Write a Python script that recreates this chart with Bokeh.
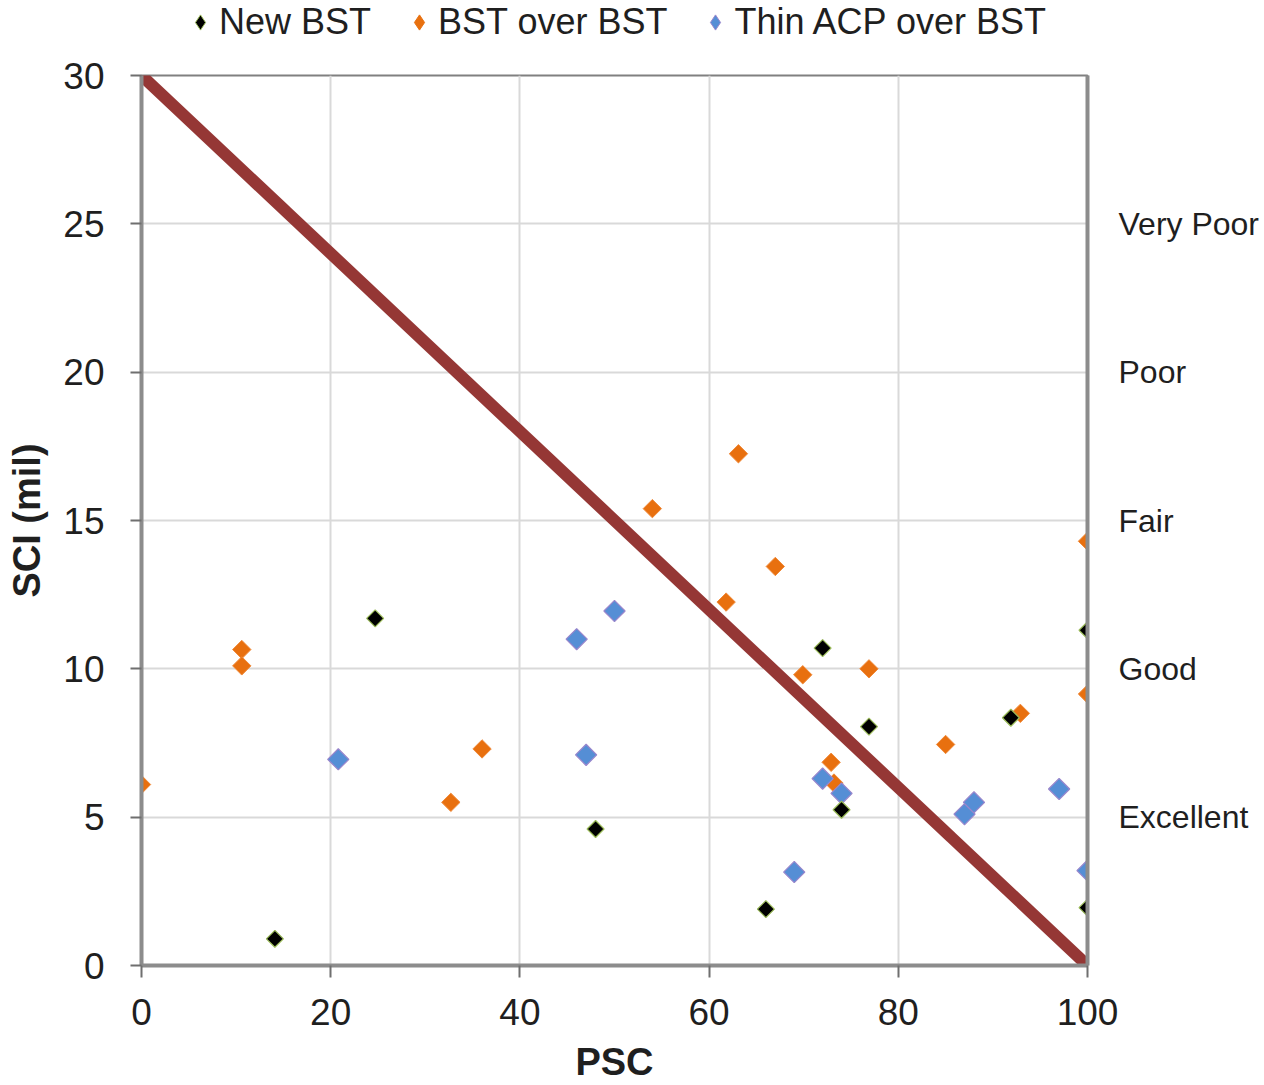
from bokeh.plotting import figure
from bokeh.models import Range1d, LinearAxis, FixedTicker, Legend, LegendItem
from bokeh.layouts import column
from bokeh.embed import file_html
from bokeh.resources import INLINE
import math

# ---------------- data ----------------
new_bst_psc = [14.1, 24.7, 48.0, 66.0, 72.0, 74.0, 76.9, 91.9, 100.0, 100.0]
new_bst_sci = [0.9, 11.7, 4.6, 1.9, 10.7, 5.25, 8.05, 8.35, 11.3, 1.95]

bst_over_psc = [0.0, 10.6, 10.6, 32.7, 36.0, 54.0, 61.8, 63.1, 67.0, 69.9,
                72.9, 73.2, 76.9, 85.0, 92.9, 100.0, 100.0]
bst_over_sci = [6.1, 10.65, 10.1, 5.5, 7.3, 15.4, 12.25, 17.25, 13.45, 9.8,
                6.85, 6.15, 10.0, 7.45, 8.5, 14.3, 9.15]

acp_psc = [20.8, 46.0, 47.0, 50.0, 69.0, 72.0, 74.0, 87.0, 88.0, 97.0, 100.0]
acp_sci = [6.95, 11.0, 7.1, 11.95, 3.15, 6.3, 5.8, 5.1, 5.5, 5.95, 3.2]

threshold_psc = [0, 100]
threshold_sci = [30, 0]

rating_levels = [25, 20, 15, 10, 5]
rating_labels = ["Very Poor", "Poor", "Fair", "Good", "Excellent"]

series_names = ["New BST", "BST over BST", "Thin ACP over BST"]

x_ticks = [0, 20, 40, 60, 80, 100]
y_ticks = [0, 5, 10, 15, 20, 25, 30]

# ---------------- styling ----------------
FONT = "Liberation Sans"
AXIS_GRAY = "#8c8c8c"
TEXT = "#1f1f1f"
C_NEW_FILL, C_NEW_LINE = "#000000", "#9BBB59"
C_BST_FILL, C_BST_LINE = "#E8700F", "#F08A3A"
C_ACP_FILL, C_ACP_LINE = "#558ED5", "#9a86cc"

W = 1264
LEG_H = 44

# ---------------- main figure ----------------
p = figure(width=W, height=1085 - LEG_H, output_backend="svg", toolbar_location=None,
           x_range=Range1d(0, 100), y_range=Range1d(0, 30),
           min_border_left=141, min_border_right=177, min_border_top=75 - LEG_H,
           min_border_bottom=120, background_fill_color="white",
           border_fill_color="white")

p.outline_line_color = "#808080"
p.outline_line_width = 2

p.xgrid.ticker = FixedTicker(ticks=x_ticks)
p.ygrid.ticker = FixedTicker(ticks=y_ticks)
for g in (p.xgrid, p.ygrid):
    g.grid_line_color = "#d9d9d9"
    g.grid_line_width = 2

xa = p.xaxis[0]
xa.ticker = FixedTicker(ticks=x_ticks)
xa.axis_label = "PSC"
ya = p.yaxis[0]
ya.ticker = FixedTicker(ticks=y_ticks)
ya.axis_label = "SCI (mil)"

for ax in (xa, ya):
    ax.axis_line_color = AXIS_GRAY
    ax.axis_line_width = 4
    ax.major_tick_line_color = "#6f6f6f"
    ax.major_tick_line_width = 2
    ax.major_tick_in = 0
    ax.minor_tick_line_color = None
    ax.major_label_text_font = FONT
    ax.major_label_text_font_size = "37px"
    ax.major_label_text_color = TEXT
    ax.axis_label_text_font = FONT
    ax.axis_label_text_font_size = "38px"
    ax.axis_label_text_font_style = "bold"
    ax.axis_label_text_color = TEXT

ya.major_tick_out = 11
ya.major_label_standoff = 26
ya.axis_label_standoff = 12
xa.major_tick_out = 12
xa.major_label_standoff = 21
xa.axis_label_standoff = 13

ra = LinearAxis(ticker=FixedTicker(ticks=rating_levels),
                major_label_overrides={lv: lb for lv, lb in zip(rating_levels, rating_labels)})
ra.axis_line_color = AXIS_GRAY
ra.axis_line_width = 4
ra.major_tick_out = 0
ra.major_tick_in = 0
ra.major_tick_line_color = None
ra.minor_tick_line_color = None
ra.major_label_standoff = 31
ra.major_label_text_font = FONT
ra.major_label_text_font_size = "32px"
ra.major_label_text_color = TEXT
p.add_layout(ra, "right")

p.line(threshold_psc, threshold_sci, line_color="#953735", line_width=12)

ang = math.pi / 4
p.scatter(bst_over_psc, bst_over_sci, marker="square", angle=ang, size=13,
          fill_color=C_BST_FILL, line_color=C_BST_LINE, line_width=1)
p.scatter(acp_psc, acp_sci, marker="square", angle=ang, size=15,
          fill_color=C_ACP_FILL, line_color=C_ACP_LINE, line_width=1.2)
p.scatter(new_bst_psc, new_bst_sci, marker="square", angle=ang, size=12,
          fill_color=C_NEW_FILL, line_color=C_NEW_LINE, line_width=1.2)

# ---------------- legend strip above ----------------
lf = figure(width=W, height=LEG_H, output_backend="svg", toolbar_location=None,
            x_range=Range1d(0, 100), y_range=Range1d(0, 30), min_border=0,
            background_fill_color="white", border_fill_color="white")
lf.outline_line_color = None
lf.axis.visible = False
lf.grid.visible = False

l_new = lf.scatter(new_bst_psc, new_bst_sci, marker="diamond", visible=False,
                   fill_color=C_NEW_FILL, line_color=C_NEW_LINE, line_width=1)
l_bst = lf.scatter(bst_over_psc, bst_over_sci, marker="diamond", visible=False,
                   fill_color=C_BST_FILL, line_color=C_BST_FILL, line_width=1)
l_acp = lf.scatter(acp_psc, acp_sci, marker="diamond", visible=False,
                   fill_color=C_ACP_FILL, line_color=C_ACP_LINE, line_width=1)

legend = Legend(items=[LegendItem(label=n, renderers=[r])
                       for n, r in zip(series_names, [l_new, l_bst, l_acp])],
                orientation="horizontal", location=(40, 1))
legend.label_text_font = FONT
legend.label_text_font_size = "36px"
legend.label_text_color = TEXT
legend.glyph_width = 38
legend.glyph_height = 40
legend.label_height = 40
legend.label_standoff = 0
legend.spacing = 29
legend.padding = 0
legend.margin = 0
legend.border_line_color = None
legend.background_fill_alpha = 0
lf.add_layout(legend, "center")

layout = column(lf, p, spacing=0)
open("out.html", "w").write(file_html(layout, INLINE))
